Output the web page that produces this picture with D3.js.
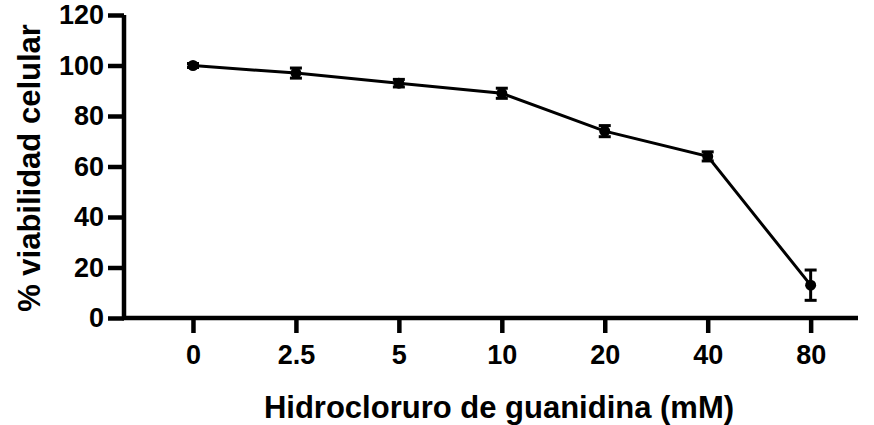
<!DOCTYPE html>
<html>
<head>
<meta charset="utf-8">
<script src="https://cdn.jsdelivr.net/npm/d3@7"></script>
<style>
  html, body { margin: 0; padding: 0; background: #fff; }
  svg { display: block; font-family: "Liberation Sans", Arial, sans-serif; font-weight: bold; }
</style>
</head>
<body>
<svg id="chart" width="874" height="425"></svg>
<script>
// Concentrations of guanidine hydrochloride (mM), plotted as equally spaced categories
const concentrations = ["0", "2.5", "5", "10", "20", "40", "80"];
// Mean cell viability (%)
const viability = [100, 97, 93, 89, 74, 64, 13];
// Error (± SD)
const viabilityError = [0.8, 2, 1.5, 2, 2.2, 1.8, 6];
const yTicks = [0, 20, 40, 60, 80, 100, 120];

const svg = d3.select("#chart");

const x = d3.scaleLinear().domain([-0.67, 6.46]).range([124, 858]);
const y = d3.scaleLinear().domain([0, 120]).range([318, 15]);

const data = concentrations.map((c, i) => ({ i, c, v: viability[i], e: viabilityError[i] }));

// Y axis
const yAxis = svg.append("g")
  .attr("transform", `translate(${x.range()[0]},0)`)
  .call(d3.axisLeft(y).tickValues(yTicks).tickSize(16).tickSizeOuter(0).tickPadding(4));
// X axis
const xAxis = svg.append("g")
  .attr("transform", `translate(0,${y(0)})`)
  .call(d3.axisBottom(x).tickValues(d3.range(concentrations.length))
    .tickFormat(i => concentrations[i]).tickSize(15).tickSizeOuter(0).tickPadding(12));

[yAxis, xAxis].forEach(g => {
  g.select(".domain").attr("stroke", "#000").attr("stroke-width", 4.5);
  g.selectAll(".tick line").attr("stroke", "#000").attr("stroke-width", 4.5);
  g.selectAll(".tick text").attr("fill", "#000").style("font-size", "27px").style("font-weight", "bold");
});
// join the two axis lines at the corner
xAxis.select(".domain").attr("d", `M${x.range()[0] - 2},0H${x.range()[1]}`);
yAxis.select(".domain").attr("d", `M0,${y.range()[1]}V${y.range()[0] + 2}`);

// Connecting line
svg.append("path")
  .datum(data)
  .attr("fill", "none")
  .attr("stroke", "#000")
  .attr("stroke-width", 3)
  .attr("d", d3.line().x(d => x(d.i)).y(d => y(d.v)));

// Error bars
const eb = svg.append("g").attr("stroke", "#000").attr("stroke-width", 3);
data.forEach(d => {
  const top = y(d.v + d.e), bot = y(d.v - d.e), cx = x(d.i);
  eb.append("line").attr("x1", cx).attr("x2", cx).attr("y1", top).attr("y2", bot);
  eb.append("line").attr("x1", cx - 6).attr("x2", cx + 6).attr("y1", top).attr("y2", top);
  eb.append("line").attr("x1", cx - 6).attr("x2", cx + 6).attr("y1", bot).attr("y2", bot);
});

// Points
svg.append("g").selectAll("circle")
  .data(data)
  .join("circle")
  .attr("cx", d => x(d.i))
  .attr("cy", d => y(d.v))
  .attr("r", 5.5)
  .attr("fill", "#000");

// Axis titles
svg.append("text")
  .attr("x", 499).attr("y", 418)
  .attr("text-anchor", "middle")
  .style("font-size", "31px")
  .text("Hidrocloruro de guanidina (mM)");

svg.append("text")
  .attr("transform", "translate(40,168) rotate(-90)")
  .attr("text-anchor", "middle")
  .style("font-size", "31px")
  .text("% viabilidad celular");
</script>
</body>
</html>
